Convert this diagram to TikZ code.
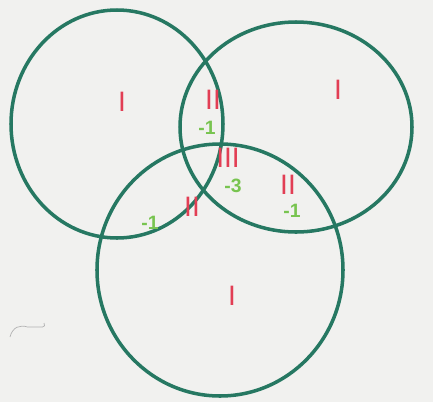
\documentclass[tikz,border=0pt]{standalone}
\usepackage{fontspec}
\setmainfont{Liberation Sans}
\usepackage{xcolor}
\usetikzlibrary{positioning}

\definecolor{inkgreen}{RGB}{38,120,98}
\definecolor{inkred}{RGB}{226,62,84}
\definecolor{inklime}{RGB}{120,196,80}
\definecolor{paper}{RGB}{241,241,239}

\begin{document}
\begin{tikzpicture}[
    ring/.style={draw=inkgreen, line width=2pt},
    cnt/.style={text=inkred, font=\fontsize{16}{16}\selectfont, inner sep=0pt},
    neg/.style={text=inklime, font=\fontsize{11}{11}\selectfont\bfseries, inner sep=0pt},
]
\fill[paper] (0,0) rectangle (8.66,8.04);
\useasboundingbox (0,0) rectangle (8.66,8.04);

% the three sets
\draw[ring] (2.34,5.56) ellipse [x radius=2.12, y radius=2.28];
\draw[ring] (5.92,5.50) ellipse [x radius=2.32, y radius=2.10];
\draw[ring] (4.40,2.64) ellipse [x radius=2.46, y radius=2.52];

% counts
\node[cnt] (a) at (2.44,6.00) {I};
\node[cnt] (b) at (6.76,6.24) {I};
\node[cnt] (c) at (4.64,2.12) {I};
\node[cnt] (ab) at (4.26,6.04) {II};
\node[neg] (abn) at (4.14,5.48) {-1};
\node[cnt] (ac) at (3.84,3.90) {II};
\node[neg] (acn) at (3.00,3.58) {-1};
\node[cnt] (bc) at (5.76,4.34) {II};
\node[neg] (bcn) at (5.84,3.82) {-1};
\node[cnt] (abc) at (4.56,4.88) {III};
\node[neg] (abcn) at (4.66,4.32) {-3};

% stray mark
\draw[gray!60, line width=0.4pt] (0.2,1.3) .. controls (0.25,1.5) and (0.4,1.55) .. (0.55,1.5) -- (0.85,1.5) .. controls (0.9,1.52) .. (0.88,1.58);
\end{tikzpicture}
\end{document}
